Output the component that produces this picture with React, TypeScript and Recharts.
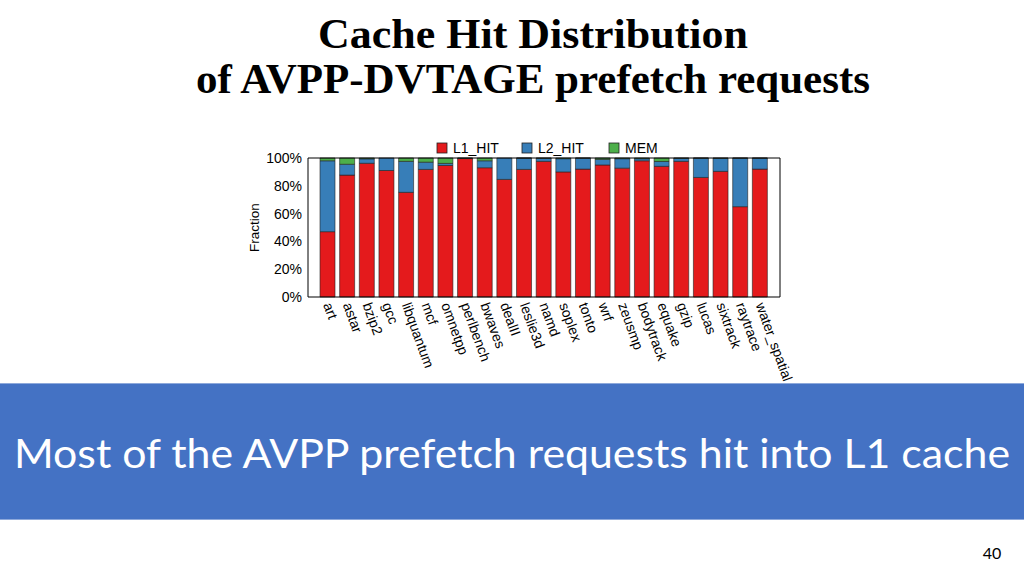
import { BarChart, Bar, XAxis, YAxis } from 'recharts'

const benchmarks = [
  'art', 'astar', 'bzip2', 'gcc', 'libquantum', 'mcf', 'omnetpp', 'perlbench',
  'bwaves', 'dealII', 'leslie3d', 'namd', 'soplex', 'tonto', 'wrf', 'zeusmp',
  'bodytrack', 'equake', 'gzip', 'lucas', 'sixtrack', 'raytrace', 'water_spatial',
]
const l1Hit = [47, 87.7, 96.2, 91, 75.3, 91.8, 94.6, 99.6, 93, 84.6, 91.8, 97.6, 90, 92, 95, 92.7, 98, 94, 97.6, 86, 90.4, 65, 92]
const l2Hit = [51, 7.8, 3.2, 9, 22.3, 5.2, 1.5, 0.2, 5, 15.4, 8.1, 2.2, 9.5, 7.9, 4, 6.8, 1.5, 3.5, 2.2, 13.9, 9.4, 34.9, 7.9]
const mem = [2, 4.5, 0.6, 0, 2.4, 3, 3.9, 0.2, 2, 0, 0.1, 0.2, 0.5, 0.1, 1, 0.5, 0.5, 2.5, 0.2, 0.1, 0.2, 0.1, 0.1]
const yTicks = [0, 20, 40, 60, 80, 100]

const series = [
  { key: 'L1_HIT', color: '#E41A1C' },
  { key: 'L2_HIT', color: '#377EB8' },
  { key: 'MEM', color: '#4DAF4A' },
]

const data = benchmarks.map((name, i) => ({
  name,
  L1_HIT: l1Hit[i],
  L2_HIT: l2Hit[i],
  MEM: mem[i],
}))

const axisFont = '"Liberation Sans", Arial, sans-serif'

function XTick({ x, y, payload }: any) {
  const ty = y + 6
  return (
    <text
      x={x}
      y={ty}
      transform={`rotate(70, ${x}, ${ty})`}
      textAnchor="start"
      dominantBaseline="central"
      fontSize={14}
      fontFamily={axisFont}
      fill="#000"
    >
      {payload.value}
    </text>
  )
}

function FractionLabel({ viewBox }: any) {
  const cx = viewBox.x + viewBox.width - 54
  const cy = viewBox.y + viewBox.height / 2
  return (
    <text
      x={cx}
      y={cy}
      transform={`rotate(-90, ${cx}, ${cy})`}
      textAnchor="middle"
      dominantBaseline="central"
      fontSize={13.5}
      fontFamily={axisFont}
      fill="#000"
    >
      Fraction
    </text>
  )
}

const legendPos = [437, 522, 609]

export default function App() {
  return (
    <div style={{ position: 'absolute', left: 0, top: 0, width: 1024, height: 576, background: '#fff', overflow: 'hidden' }}>
      <svg width={1024} height={110} style={{ position: 'absolute', left: 0, top: 0 }}>
        <text x={533} y={48} textAnchor="middle" textLength={430} lengthAdjust="spacingAndGlyphs"
          fontFamily='"Liberation Serif", serif' fontWeight="bold" fontSize={43} fill="#000">
          Cache Hit Distribution
        </text>
        <text x={533} y={93} textAnchor="middle" textLength={674} lengthAdjust="spacingAndGlyphs"
          fontFamily='"Liberation Serif", serif' fontWeight="bold" fontSize={43} fill="#000">
          of AVPP-DVTAGE prefetch requests
        </text>
      </svg>

      <div style={{ position: 'absolute', left: 0, top: 0 }}>
        <BarChart
          width={1024}
          height={576}
          data={data}
          margin={{ top: 157, right: 243, bottom: 278, left: 307 }}
          barSize={15}
        >
          <XAxis
            dataKey="name"
            height={1}
            interval={0}
            padding={{ left: 10, right: 10 }}
            tickLine={false}
            tickSize={0}
            tickMargin={0}
            axisLine={{ stroke: '#000', strokeWidth: 1 }}
            tick={<XTick />}
          />
          <XAxis
            xAxisId="top"
            dataKey="name"
            orientation="top"
            height={1}
            padding={{ left: 10, right: 10 }}
            tick={false}
            tickLine={false}
            axisLine={{ stroke: '#000', strokeWidth: 1 }}
          />
          <YAxis
            width={1}
            domain={[0, 100]}
            ticks={yTicks}
            tickLine={false}
            tickSize={0}
            tickMargin={6}
            axisLine={{ stroke: '#000', strokeWidth: 1 }}
            tickFormatter={(v) => `${v}%`}
            tick={{ fontSize: 14, fontFamily: axisFont, fill: '#000' }}
            label={{ content: <FractionLabel /> }}
          />
          <YAxis
            yAxisId="r"
            orientation="right"
            width={1}
            domain={[0, 100]}
            ticks={yTicks}
            tickSize={6}
            tickLine={{ stroke: '#000' }}
            axisLine={{ stroke: '#000', strokeWidth: 1 }}
            tick={() => <g />}
          />
          {series.map((s) => (
            <Bar
              key={s.key}
              dataKey={s.key}
              stackId="a"
              fill={s.color}
              stroke="#222"
              strokeWidth={0.6}
              isAnimationActive={false}
            />
          ))}
        </BarChart>
      </div>

      <svg width={1024} height={30} style={{ position: 'absolute', left: 0, top: 133 }}>
        {series.map((s, i) => (
          <g key={s.key}>
            <rect x={legendPos[i]} y={10} width={10} height={10} fill={s.color} stroke="#222" strokeWidth={0.8} />
            <text x={legendPos[i] + 16} y={20} fontSize={14} fontFamily={axisFont} fill="#000">
              {s.key}
            </text>
          </g>
        ))}
      </svg>

      <div style={{ position: 'absolute', left: 0, top: 383, width: 1024, height: 137, background: '#4472C4', borderTop: '1px solid #8EA9DB', borderBottom: '1px solid #8EA9DB', boxSizing: 'border-box' }}>
        <svg width={1024} height={137} style={{ position: 'absolute', left: 0, top: 0 }}>
          <text x={512} y={84} textAnchor="middle" textLength={996} lengthAdjust="spacingAndGlyphs"
            fontFamily="Lato, sans-serif" fontSize={40} fill="#fff">
            Most of the AVPP prefetch requests hit into L1 cache
          </text>
        </svg>
      </div>

      <div style={{ position: 'absolute', left: 980, top: 543, width: 24, textAlign: 'center', fontFamily: 'Lato, sans-serif', fontSize: 16, color: '#000' }}>
        40
      </div>
    </div>
  )
}
